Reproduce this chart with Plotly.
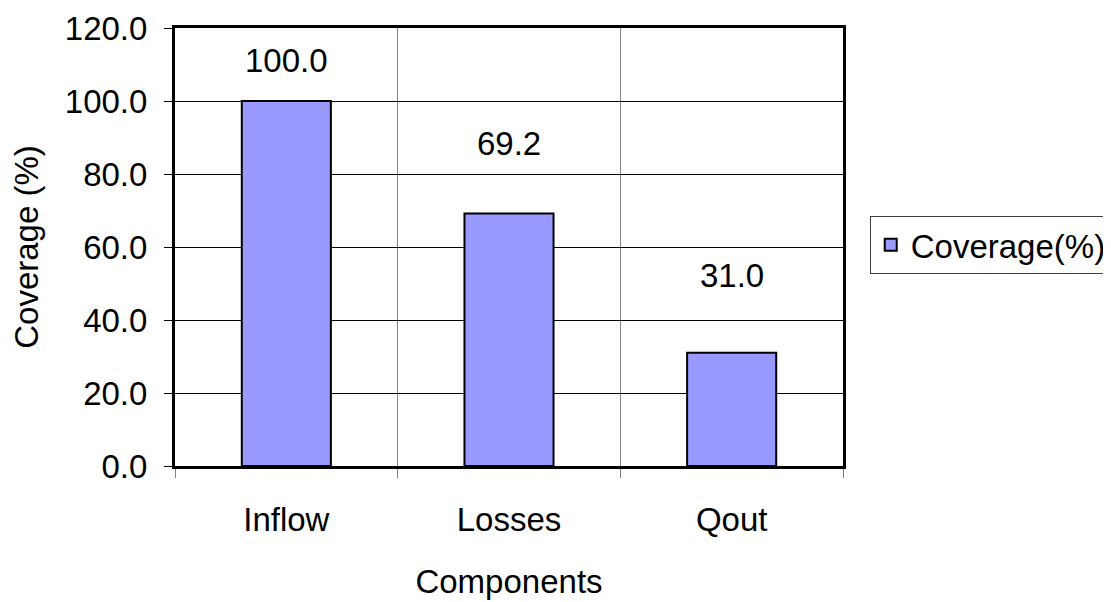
import plotly.graph_objects as go

categories = ["Inflow", "Losses", "Qout"]
coverage = [100.0, 69.2, 31.0]
series_name = "Coverage(%)"
y_ticks = [0, 20, 40, 60, 80, 100, 120]

label_shift_px = [41, 70, 77]  # manual label offsets above bars (style)

FONT = "Liberation Sans, Arial, sans-serif"
FS = 33

fig = go.Figure()
fig.add_trace(go.Bar(
    x=categories, y=coverage, name=series_name,
    marker=dict(color="#9999FF", line=dict(color="black", width=2)),
    width=0.4, showlegend=True,
))

for c, v, s in zip(categories, coverage, label_shift_px):
    fig.add_annotation(x=c, y=v, text=f"{v:.1f}", showarrow=False,
                       yshift=s, yanchor="middle", xanchor="center",
                       font=dict(family=FONT, size=FS, color="black"))

fig.update_layout(
    width=1103, height=594,
    margin=dict(l=167, r=268, t=20, b=136, autoexpand=False),
    paper_bgcolor="white", plot_bgcolor="white",
    font=dict(family=FONT, size=FS, color="black"),
    showlegend=True,
    legend=dict(x=1.04, y=0.505, xanchor="left", yanchor="middle",
                bordercolor="#404040", borderwidth=1,
                font=dict(family=FONT, size=FS, color="black"),
                itemsizing="constant"),
    xaxis=dict(
        type="category", tickson="boundaries", range=[-0.5, 2.5],
        showgrid=True, gridcolor="#808080", gridwidth=1,
        ticks="outside", ticklen=9, tickcolor="#808080", tickwidth=1,
        showline=True, linecolor="black", linewidth=3, mirror=True,
        title=dict(text="Components", standoff=34, font=dict(size=FS)),
        tickfont=dict(size=FS), ticklabelstandoff=22,
    ),
    yaxis=dict(
        range=[0, 120], tickvals=y_ticks,
        ticktext=[f"{t:.1f}" for t in y_ticks],
        showgrid=True, gridcolor="black", gridwidth=1,
        ticks="outside", ticklen=8, tickcolor="black", tickwidth=1,
        showline=True, linecolor="black", linewidth=3, mirror=True,
        zeroline=False,
        title=dict(text="Coverage (%)", standoff=21, font=dict(size=FS)),
        tickfont=dict(size=FS), ticklabelstandoff=10,
    ),
    bargap=0.6,
)

fig.write_html("out.html")
